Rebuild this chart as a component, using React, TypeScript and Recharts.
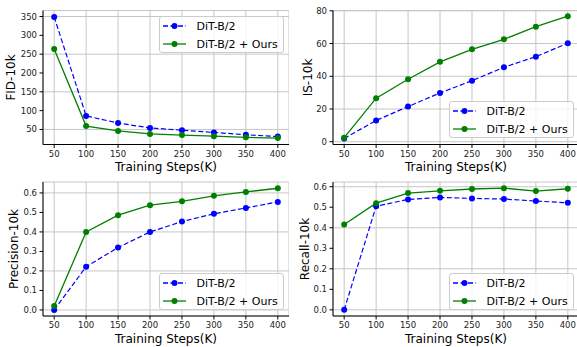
import React from "react";
import { CartesianGrid, Legend, Line, LineChart, XAxis, YAxis } from "recharts";

const steps = [50, 100, 150, 200, 250, 300, 350, 400];

const fidBase = [349, 86, 67, 54, 48, 42, 36, 31];
const fidOurs = [264, 59, 46, 38, 35, 32, 29, 27];
const isBase = [2, 13, 21.5, 29.8, 37.3, 45.5, 52, 60.2];
const isOurs = [2.5, 26.6, 38.2, 48.8, 56.5, 62.6, 70.3, 76.7];
const precBase = [0.0, 0.222, 0.32, 0.4, 0.453, 0.493, 0.523, 0.554];
const precOurs = [0.02, 0.4, 0.486, 0.537, 0.557, 0.585, 0.605, 0.624];
const recBase = [0.0, 0.505, 0.538, 0.548, 0.543, 0.54, 0.53, 0.522];
const recOurs = [0.416, 0.52, 0.569, 0.58, 0.589, 0.593, 0.579, 0.59];

const fidTicks = [50, 100, 150, 200, 250, 300, 350];
const isTicks = [0, 20, 40, 60, 80];
const fracTicks = [0, 0.1, 0.2, 0.3, 0.4, 0.5, 0.6];

const FONT = "'DejaVu Sans', sans-serif";
const BLUE = "#0000ff";
const GREEN = "#008000";

type Row = { step: number; base: number; ours: number };

const toRows = (base: number[], ours: number[]): Row[] =>
  steps.map((step, i) => ({ step, base: base[i], ours: ours[i] }));

function LegendBox({ payload }: any) {
  return (
    <div
      style={{
        width: 125.5,
        height: 37.5,
        boxSizing: "border-box",
        border: "1px solid #cccccc",
        borderRadius: 3,
        background: "rgba(255,255,255,0.8)",
        fontFamily: FONT,
        fontSize: 11,
        color: "#000",
        paddingTop: 0.5,
      }}
    >
      {(payload || []).map((entry: any) => (
        <div key={entry.value} style={{ display: "flex", alignItems: "center", height: 18 }}>
          <svg width={23} height={8} style={{ marginLeft: 3, marginRight: 11 }}>
            <line
              x1={0}
              y1={4}
              x2={23}
              y2={4}
              stroke={entry.color}
              strokeWidth={1.3}
              strokeDasharray={entry.payload?.strokeDasharray}
            />
            <circle cx={11.5} cy={4} r={3} fill={entry.color} />
          </svg>
          <span style={{ whiteSpace: "nowrap" }}>{entry.value}</span>
        </div>
      ))}
    </div>
  );
}

type PanelProps = {
  rows: Row[];
  yLabel: string;
  yLabelX: number;
  yDomain: [number, number];
  yTicks: number[];
  yFormat?: (v: number) => string;
  legendTop: number;
  marginTop: number;
};

function Panel({ rows, yLabel, yLabelX, yDomain, yTicks, yFormat, legendTop, marginTop }: PanelProps) {
  const tick = { fill: "#222", fontSize: 8.5, fontFamily: FONT };
  return (
    <LineChart width={289} height={175} data={rows} margin={{ top: marginTop, right: 0, bottom: 0, left: 0 }}>
      <CartesianGrid stroke="#c6c6c6" strokeWidth={1} />
      <XAxis
        dataKey="step"
        type="number"
        domain={[32.5, 417.5]}
        ticks={steps}
        height={175 - marginTop - 134}
        tickSize={3.5}
        tickMargin={2.5}
        stroke="#000"
        tick={tick}
        label={{ value: "Training Steps(K)", position: "insideBottom", offset: 4.5, fontSize: 12, fill: "#000", fontFamily: FONT }}
      />
      <XAxis xAxisId="top" orientation="top" type="number" domain={[32.5, 417.5]} height={0} tick={false} tickLine={false} stroke="#000" />
      <YAxis
        type="number"
        domain={yDomain}
        ticks={yTicks}
        allowDataOverflow
        width={43}
        tickSize={3.5}
        tickMargin={2.5}
        stroke="#000"
        tick={tick}
        tickFormatter={yFormat}
        label={(props: any) => {
          const vb = props.viewBox;
          const cy = vb.y + vb.height / 2;
          const x = vb.x + yLabelX;
          return (
            <text
              x={x}
              y={cy}
              transform={`rotate(-90, ${x}, ${cy})`}
              textAnchor="middle"
              dominantBaseline="central"
              fontSize={12}
              fontFamily={FONT}
              fill="#000"
            >
              {yLabel}
            </text>
          );
        }}
      />
      <YAxis yAxisId="right" orientation="right" type="number" domain={yDomain} width={0} tick={false} tickLine={false} stroke="#000" />
      <Line
        dataKey="base"
        name="DiT-B/2"
        stroke={BLUE}
        strokeWidth={1.2}
        strokeDasharray="5 2.5"
        dot={{ r: 3, fill: BLUE, stroke: "none" }}
        isAnimationActive={false}
      />
      <Line
        dataKey="ours"
        name="DiT-B/2 + Ours"
        stroke={GREEN}
        strokeWidth={1.3}
        dot={{ r: 3, fill: GREEN, stroke: "none" }}
        isAnimationActive={false}
      />
      <Legend
        layout="horizontal"
        verticalAlign="middle"
        align="center"
        content={LegendBox}
        wrapperStyle={{ left: 158.5, top: legendTop, width: 125.5, height: 37.5 }}
      />
    </LineChart>
  );
}

const frac = (v: number) => v.toFixed(1);

export default function App() {
  const cell = (left: number, top: number): React.CSSProperties => ({ position: "absolute", left, top });
  return (
    <div style={{ position: "absolute", left: 0, top: 0, width: 577, height: 347, overflow: "hidden", background: "#fff" }}>
      <div style={cell(0, 0)}>
        <Panel rows={toRows(fidBase, fidOurs)} yLabel="FID-10k" yLabelX={11} yDomain={[10, 366]} yTicks={fidTicks} legendTop={15.7} marginTop={10.5} />
      </div>
      <div style={cell(290, 0)}>
        <Panel rows={toRows(isBase, isOurs)} yLabel="IS-10k" yLabelX={18} yDomain={[-1.7, 80.2]} yTicks={isTicks} legendTop={100.7} marginTop={10.5} />
      </div>
      <div style={cell(0, 172)}>
        <Panel rows={toRows(precBase, precOurs)} yLabel="Precision-10k" yLabelX={14} yDomain={[-0.031, 0.656]} yTicks={fracTicks} yFormat={frac} legendTop={100.7} marginTop={10} />
      </div>
      <div style={cell(290, 172)}>
        <Panel rows={toRows(recBase, recOurs)} yLabel="Recall-10k" yLabelX={15} yDomain={[-0.03, 0.623]} yTicks={fracTicks} yFormat={frac} legendTop={100.7} marginTop={10} />
      </div>
    </div>
  );
}
